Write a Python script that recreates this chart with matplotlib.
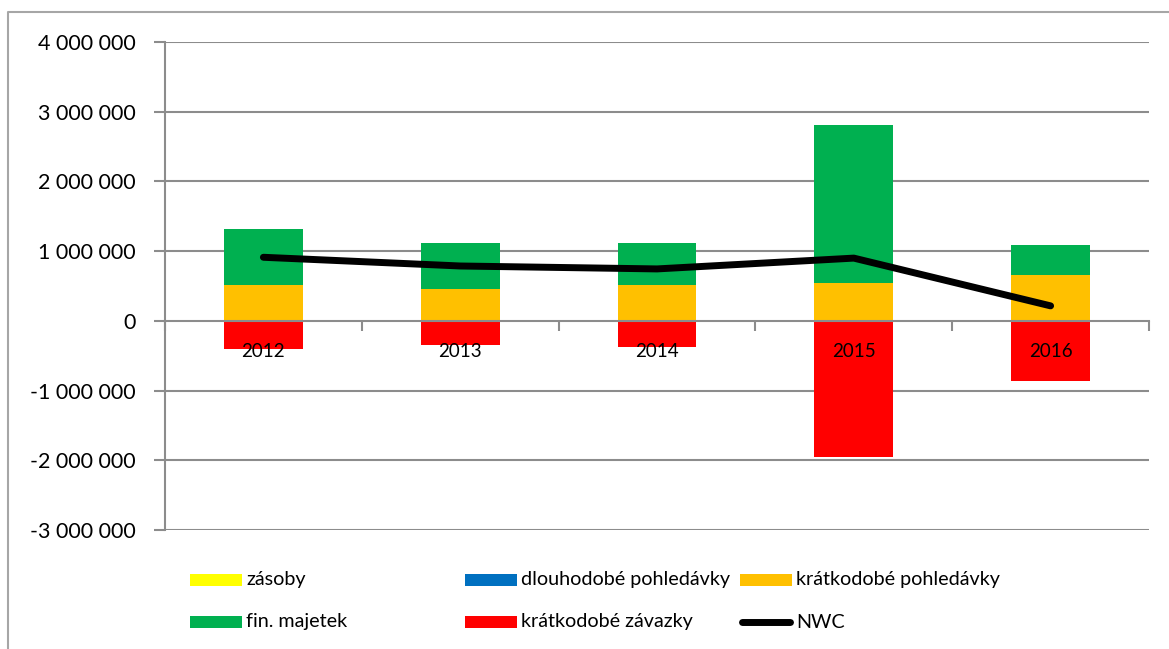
import matplotlib
matplotlib.use("Agg")
import matplotlib.pyplot as plt
from matplotlib.patches import Rectangle
from matplotlib.lines import Line2D
import numpy as np

plt.rcParams['font.family'] = ['Lato', 'DejaVu Sans']

# Data (CZK)
years = ["2012", "2013", "2014", "2015", "2016"]
zasoby = [0, 0, 0, 0, 0]
dlouhodobe_pohledavky = [8000, 8000, 8000, 8000, 8000]
kratkodobe_pohledavky = [507000, 450000, 507000, 536000, 650000]
fin_majetek = [803000, 659000, 605000, 2266000, 431000]
kratkodobe_zavazky = [-399000, -346000, -375000, -1948000, -858000]
nwc = [912000, 787000, 745000, 900000, 215000]

colors = {"zásoby": "#FFFF00", "dlouhodobé pohledávky": "#0070C0",
          "krátkodobé pohledávky": "#FFC000", "fin. majetek": "#00B050",
          "krátkodobé závazky": "#FF0000", "NWC": "#000000"}

W, H = 1169, 649
fig = plt.figure(figsize=(W / 100, H / 100), dpi=100)
ax = fig.add_axes([165 / W, 1 - 530 / H, (1149 - 165) / W, (530 - 42) / H])

x = np.arange(len(years))
bw = 0.4
grid_c = "#8c8c8c"

# stacked positive parts
bottom = np.zeros(len(years))
for name, vals in [("zásoby", zasoby),
                   ("dlouhodobé pohledávky", dlouhodobe_pohledavky),
                   ("krátkodobé pohledávky", kratkodobe_pohledavky),
                   ("fin. majetek", fin_majetek)]:
    v = np.array(vals, dtype=float)
    ax.bar(x, v, bw, bottom=bottom, color=colors[name], zorder=1, linewidth=0)
    bottom += v

# negative part
ax.bar(x, kratkodobe_zavazky, bw, color=colors["krátkodobé závazky"], zorder=1, linewidth=0)

# NWC line
ax.plot(x, nwc, color="black", lw=5, solid_capstyle="round",
        solid_joinstyle="round", zorder=4)

ax.set_xlim(-0.5, len(years) - 0.5)
ax.set_ylim(-3_000_000, 4_000_000)
yt = np.arange(-3_000_000, 4_000_001, 1_000_000)
ax.set_yticks(yt)
ax.set_yticklabels([f"{int(v):,}".replace(",", " ") for v in yt], fontsize=15.5)
for v in yt:
    if v != 0:
        ax.axhline(v, color=grid_c, lw=1.5, zorder=0.5)

# category axis on the zero line
ax.spines["top"].set_visible(False)
ax.spines["right"].set_visible(False)
ax.spines["bottom"].set_position(("data", 0))
ax.spines["bottom"].set_color(grid_c)
ax.spines["bottom"].set_linewidth(1.5)
ax.spines["left"].set_color(grid_c)
ax.spines["left"].set_linewidth(1.5)
ax.set_xticks(np.arange(-0.5, len(years)), minor=False)
ax.set_xticklabels([])
ax.set_xticks(x, minor=True)
ax.set_xticklabels(years, minor=True, fontsize=13.5)
ax.tick_params(axis="x", which="major", length=7, width=1.5, color=grid_c, direction="out")
ax.tick_params(axis="x", which="minor", length=0, pad=16)
ax.tick_params(axis="y", length=8, width=1.5, color=grid_c, pad=13)
for lbl in ax.get_xticklabels(minor=True):
    lbl.set_zorder(6)
ax.xaxis.set_zorder(5)

# chart area border
fig.add_artist(Line2D([8 / W, 8 / W, 1.0], [0.0, 1 - 12 / H, 1 - 12 / H],
                      transform=fig.transFigure, color="#a6a6a6", lw=1.5))

# legend
legend_items = [
    ("zásoby", 190, 580), ("dlouhodobé pohledávky", 465, 580),
    ("krátkodobé pohledávky", 740, 580), ("fin. majetek", 190, 622),
    ("krátkodobé závazky", 465, 622), ("NWC", 740, 622),
]
for name, px, py in legend_items:
    if name == "NWC":
        fig.add_artist(Line2D([(px + 2) / W, (px + 50) / W], [1 - py / H, 1 - py / H],
                              transform=fig.transFigure, color="black", lw=5,
                              solid_capstyle="round"))
    else:
        fig.add_artist(Rectangle((px / W, 1 - (py + 6) / H), 52 / W, 12 / H,
                                 transform=fig.transFigure, color=colors[name], lw=0))
    fig.text((px + 56) / W, 1 - py / H, name, fontsize=14.2, va="center", ha="left")

fig.savefig("out.png", dpi=100)
